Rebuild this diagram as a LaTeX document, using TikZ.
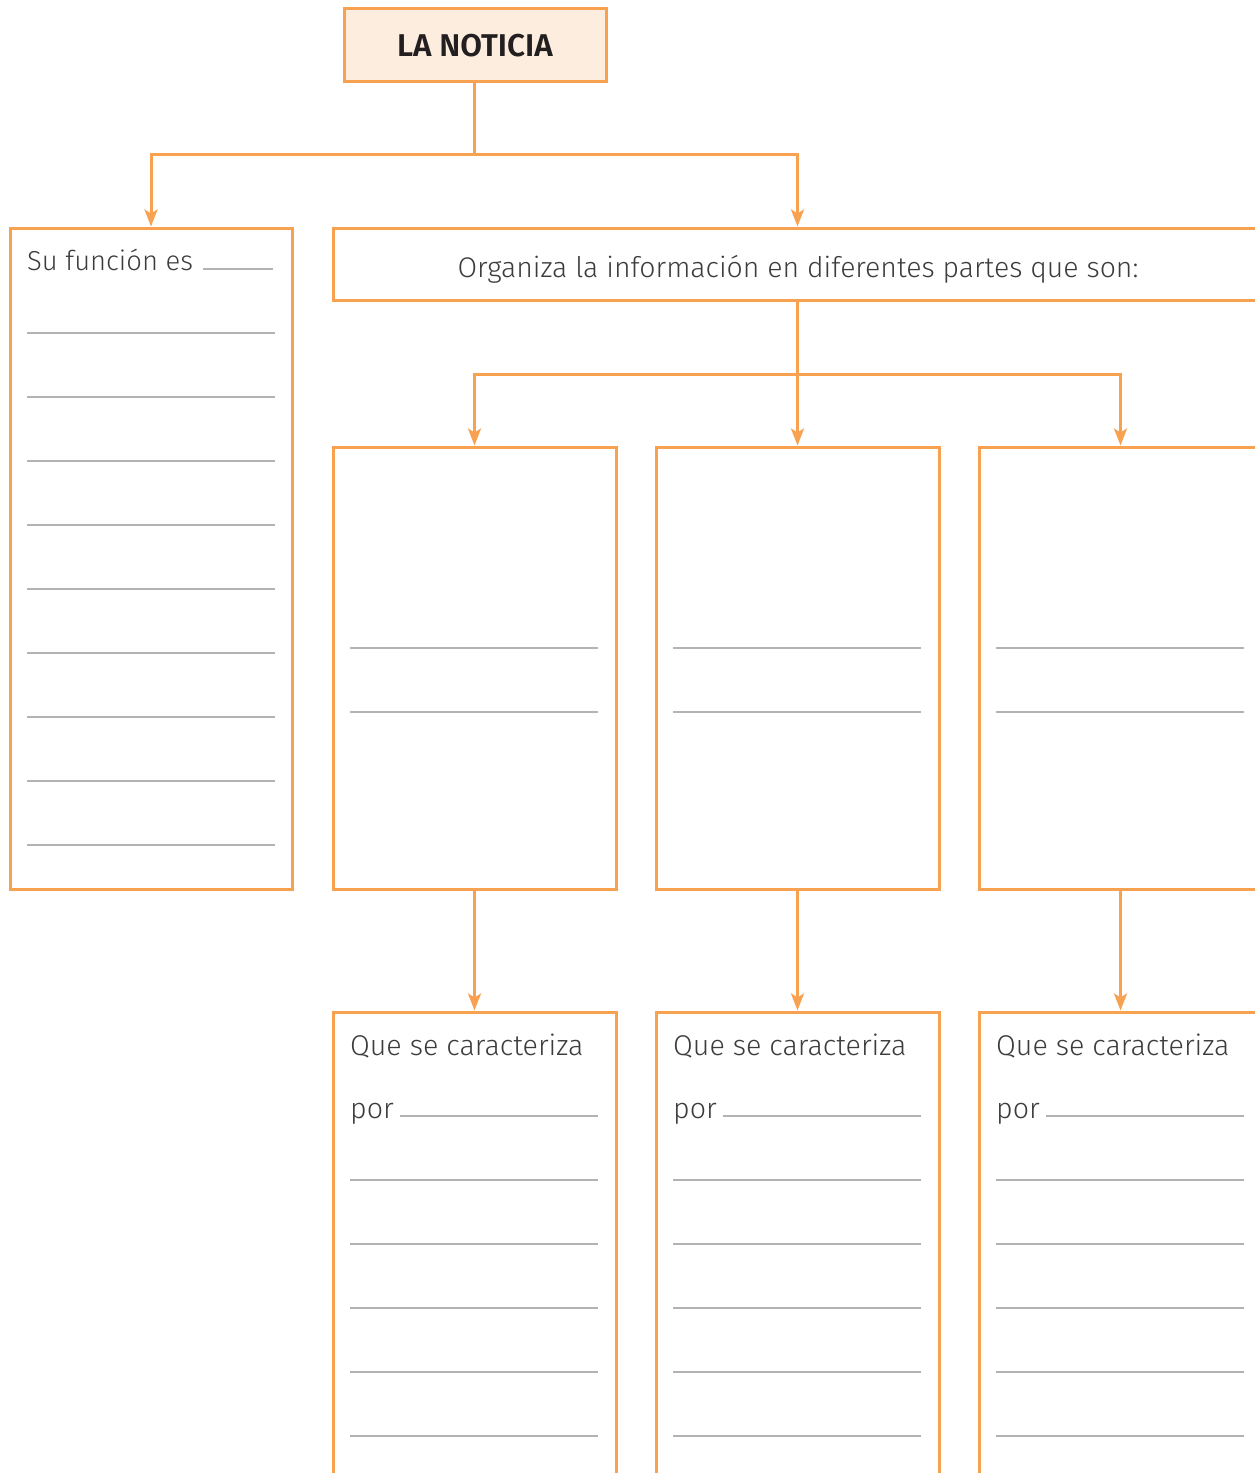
\documentclass[tikz,border=0pt]{standalone}
\usepackage{fontspec}
\setmainfont{Fira Sans Light}
\newfontfamily\titlefont{Fira Sans SemiBold}
\usetikzlibrary{arrows.meta}
\definecolor{orng}{HTML}{F8A251}
\definecolor{tfill}{HTML}{FDEDDE}
\definecolor{rule}{HTML}{B3B3B3}
\definecolor{txt}{HTML}{3C3C3C}
\definecolor{ttxt}{HTML}{231F20}
\tikzset{
  box/.style={draw=orng, line width=3pt, rectangle, inner sep=0pt},
  conn/.style={draw=orng, line width=3pt},
  arr/.style={conn, -{Stealth[length=17pt,width=13pt,inset=4pt]}},
  rulel/.style={draw=rule, line width=1.6pt},
  lbl/.style={inner sep=0pt, anchor=base west, text=txt, font=\fontsize{28.6}{30}\selectfont},
}
\begin{document}
\begin{tikzpicture}[x=1pt,y=-1pt]
\useasboundingbox (0,0) rectangle (1255,1473);
% title
\node[box, fill=tfill, minimum width=262pt, minimum height=73pt] (title) at (475,44.5) {};
\node[inner sep=0pt, text=ttxt, font=\titlefont\fontsize{31.5}{33}\selectfont] (titletext) at (475,46) {LA NOTICIA};
% left box
\node[box, minimum width=282pt, minimum height=661pt] (left) at (151,558.5) {};
% organiza box
\node[box, minimum width=967pt, minimum height=72pt] (org) at (816.5,264) {};
\node[inner sep=0pt, text=txt, font=\fontsize{28.4}{30}\selectfont, anchor=base] (orgtext) at (798,277) {Organiza la información en diferentes partes que son:};
% middle boxes
\node[box, minimum width=283pt, minimum height=442pt] (mid1) at (474.5,668) {};
\node[box, minimum width=283pt, minimum height=442pt] (mid2) at (797.5,668) {};
\node[box, minimum width=283pt, minimum height=442pt] (mid3) at (1120.5,668) {};
% bottom boxes
\node[box, minimum width=283pt, minimum height=500pt] (bot1) at (474.5,1262) {};
\node[box, minimum width=283pt, minimum height=500pt] (bot2) at (797.5,1262) {};
\node[box, minimum width=283pt, minimum height=500pt] (bot3) at (1120.5,1262) {};
% connectors
\coordinate (j1) at (474,154);
\draw[conn] (title.south -| j1) -- (j1);
\draw[arr] (j1) -| (left.north);
\draw[arr] (j1) -| (mid2.north |- org.north);
\coordinate (j2) at (797.5,374);
\draw[conn] (mid2.north |- org.south) -- (j2);
\draw[arr] (j2) -| (mid1.north);
\draw[arr] (j2) -- (mid2.north);
\draw[arr] (j2) -| (mid3.north);
\draw[arr] (mid1.south) -- (bot1.north);
\draw[arr] (mid2.south) -- (bot2.north);
\draw[arr] (mid3.south) -- (bot3.north);
% left box text and rules
\node[lbl, font=\fontsize{27.4}{30}\selectfont] (sufun) at (27,270) {Su función es};
\draw[rulel] (203,269) -- (273,269);
\foreach \k in {0,...,8} {
  \draw[rulel] (27,333+64*\k) -- (275,333+64*\k);
}
% middle box rules
\foreach \xo in {333,656,979} {
  \draw[rulel] (\xo+17,648) -- (\xo+265,648);
  \draw[rulel] (\xo+17,712) -- (\xo+265,712);
}
% bottom box texts and rules
\foreach \xo/\nm in {333/a,656/b,979/c} {
  \node[lbl] (que\nm) at (\xo+17,1055) {Que se caracteriza};
  \node[lbl] (por\nm) at (\xo+17,1118) {por};
  \draw[rulel] (\xo+67,1116) -- (\xo+265,1116);
  \foreach \k in {0,...,4} {
    \draw[rulel] (\xo+17,1180+64*\k) -- (\xo+265,1180+64*\k);
  }
}
\end{tikzpicture}
\end{document}
